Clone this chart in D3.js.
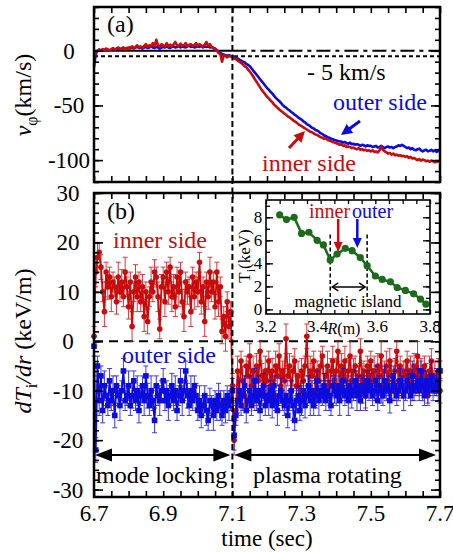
<!DOCTYPE html>
<html><head><meta charset="utf-8">
<script src="https://cdn.jsdelivr.net/npm/d3@7"></script>
<style>
body{margin:0;background:#fff}
svg{display:block}
text{font-family:"Liberation Serif","Times New Roman",serif;fill:#000}
</style>
</head><body>
<svg id="fig" width="453" height="552"></svg>
<script>
// ---- sampling of the time traces ----
const timeStart = 6.7;
const timeStep = 0.005;
const lockTime = 7.1;

// (a) toroidal rotation v_phi (km/s)
const vOuter = [
 -15,-3,0,1,0.5,1,0,1.5,1,0.5,1,2,1,1.5,2,1,2,2.5,1.5,2,
 2,3,2.5,2,3,3.5,2.5,3,2,3,3.5,2.5,3,4,3,2.5,3.5,3,2,3,
 3.5,3,4,3,2.5,3.5,4,3,3.5,4.5,3,4,3.5,3,4,4.5,3.5,4,3,3.5,
 4,3.5,4.5,3,4,3.5,4,3,3.5,2.5,2,0.5,-1,-2,-3,-3.5,-4,-4.5,-4,-5,
 -5,-6,-6.5,-7,-8,-9,-10,-10.5,-12,-13,-14,-16,-18,-20,-22,-24,-26,-28,-30,-32,
 -34,-35.5,-37.5,-39,-41,-43,-44.5,-46,-47.5,-49.5,-51,-52,-53.5,-54.5,-56,-57,-58.5,-59.5,-61,-62,
 -63,-64.5,-65.5,-67,-68,-69,-70.5,-71,-72.5,-73,-74,-75.5,-76,-77.5,-78,-79,-79.5,-80.5,-81,-81.5,
 -82,-82.5,-83,-83,-84,-83.5,-84.5,-85,-84,-85.5,-85,-86,-85.5,-86,-87,-86,-86.5,-87.5,-86.5,-87,
 -87,-88,-87.5,-87,-88.5,-88,-87,-88,-89,-88,-87.5,-88.5,-88,-89,-88,-87.5,-86.5,-87,-86,-87,
 -88,-89,-88.5,-90,-89,-90.5,-91,-90,-89.5,-91,-92,-91,-90.5,-92,-91.5,-90.5,-92,-91,-92.5,-91.5,-92
];
const vInner = [
 -5,-1,0,1,0,1.5,0.5,2,1,0,1.5,2.5,1,2,3,1.5,2,3,1,2.5,
 3,2,4,2.5,3.5,5,3,4,2.5,4.5,6,3.5,5,4,7,4,10,5,4,6,
 5,3.5,7,4,5.5,4,6,8,5,4,6.5,4.5,5,7,4,5.5,6,4.5,5,7,
 4.5,6,5,4,5.5,8,4.5,6,3.5,2.5,1,0,-2,-3,-10,-4,-5,-6,-4.5,-5,
 -5.5,-7,-7.5,-9,-10,-11,-12.5,-14,-15,-17,-19,-21,-23.5,-26,-28.5,-31,-33.5,-36,-38,-40,
 -42,-43.5,-45.5,-47,-49,-50.5,-52,-53.5,-55,-56,-57.5,-58.5,-60,-61,-62,-63.5,-64.5,-65.5,-67,-68,
 -69,-70,-71,-72,-73,-74,-74.5,-75.5,-76.5,-77,-78,-79,-79.5,-80.5,-80,-81.5,-82,-82.5,-83.5,-84,
 -84.5,-85,-86,-85.5,-87,-86.5,-88,-87.5,-88,-89,-88.5,-89.5,-90,-89,-90.5,-90,-91,-90.5,-91.5,-91,
 -92,-91,-92.5,-92,-93,-91,-88,-90.5,-92,-93,-94,-93.5,-95,-94,-95.5,-95,-96,-95.5,-96.5,-96,
 -97,-96.5,-98,-97,-98.5,-98,-99,-100,-99,-100.5,-99.5,-100,-101,-100.5,-101.5,-100.5,-101,-102,-101.5,-101,-101.5
];
const vRefLevel = -5;

// (b) ion temperature gradient dTi/dr (keV/m) with error bars
const gradInner = [
 1,14,17,18,15,10,6,14,11,13,9,12,11,8,13,10,12,9,14,11,
 7,12,3,10,13,9,12,8,11,5,10,4,9,12,10,14,13,9,2.5,11,
 13,8,14,10,15,9,11,7,13,10,14,8,5,12,10,11,6,13,9,12,
 10,16,8,11,4,12,9,14,10,12,7,14,8,11,2,5,1,8,3,6,
 -9,-20,-14,-6,-10,-4,-8,-11,-5,-7,-3,-9,-6,-12,-5,-8,-2,-7,-10,-6,
 -8,-4,-9,-6,-11,-5,-7,-3,-9,-6,-8,0.5,-7,-5,-10,-6,-4,-9,-7,-12,
 -6,-8,-5,1,-9,-6,-7,-4,-10,-6,-8,-5,-3,-9,-7,-5,-11,-6,-4,-8,
 -6,-2,-9,-5,-7,-4,-10,-6,-3,-8,-6,-5,-9,-7,-2,-8,-6,-11,-5,-7,
 -4,-8,-6,-10,-5,-7,-3,-9,-6,-5,-8,-4,-7,-10,-6,-2,-8,-5,-9,-6,
 -7,-4,-8,-6,-10,-5,-7,-3,-9,-6,-8,-5,-7,-11,-6,-4,-8,-7,-9,-6,-10
];
const gradInnerErr = [
 2,3,3,2,2.5,2,3,2,2.5,2,3,2,2,2.5,3,2,2.5,2,3,2,
 2.5,2,3,2,2.5,3,2,2,2.5,3,2,2.5,2,3,2,2.5,2,3,2,2.5,
 2,3,2,2.5,2,3,2.5,2,2,3,2,2.5,3,2,2.5,2,3,2,2.5,2,
 3,2,2.5,2,3,2,2.5,3,2,2,2.5,2,3,2,2.5,2,3,2,2.5,2,
 2.5,3,2,3,2.5,2,3,2.5,2,3,2.5,2,3,2,2.5,3,2,2.5,2,3,
 2.5,2,3,2.5,2,3,2,2.5,3,2,2.5,3,2,2.5,2,3,2.5,2,3,2,
 2.5,3,2,2.5,2,3,2.5,2,3,2,2.5,3,2,2.5,2,3,2,2.5,3,2,
 2.5,2,3,2.5,2,3,2,2.5,3,2,2.5,2,3,2,2.5,3,2,2.5,2,3,
 2,2.5,3,2,2.5,2,3,2.5,2,3,2,2.5,3,2,2.5,2,3,2,2.5,2,
 3,2,2.5,3,2,2.5,2,3,2,2.5,3,2,2.5,2,3,2.5,2,3,2,2.5,2.5
];
const gradOuter = [
 -1,-22,-5,-12,-7,-14,-9,-11,-13,-8,-12,-10,-15,-9,-11,-13,-10,-6,-12,-11,
 -9,-13,-11,-8,-12,-10,-14,-11,-9,-12,-7,-11,-13,-10,-12,-16,-9,-11,-12,-10,
 -8,-12,-10,-13,-11,-9,-12,-10,-14,-11,-8,-12,-10,-6,-11,-13,-10,-12,-9,-11,
 -14,-12,-15,-13,-11,-14,-16,-12,-13,-15,-12,-14,-11,-13,-15,-12,-14,-11,-13,-12,
 -10,-19,-15,-12,-10,-13,-11,-9,-14,-12,-10,-13,-11,-8,-12,-10,-14,-11,-9,-13,
 -11,-12,-10,-13,-9,-12,-14,-11,-10,-12,-13,-11,-15,-12,-10,-13,-16,-12,-11,-14,
 -12,-10,-13,-11,-9,-12,-10,-13,-11,-8,-12,-10,-11,-9,-12,-10,-11,-13,-9,-10,
 -11,-9,-12,-10,-8,-11,-10,-12,-9,-11,-10,-8,-11,-9,-12,-10,-9,-11,-8,-10,
 -9,-11,-10,-8,-12,-9,-10,-11,-8,-10,-9,-12,-10,-7,-9,-11,-10,-8,-9,-11,
 -10,-8,-9,-11,-7,-10,-9,-8,-10,-6,-9,-11,-8,-10,-9,-7,-10,-9,-8,-10,-6
];
const gradOuterErr = [
 2,2.5,2,3,2,2.5,3,2,2,2.5,2,3,2.5,2,2,3,2,2.5,2,2,
 3,2,2.5,2,2,3,2.5,2,2,3,2,2.5,2,3,2,2.5,2,2,3,2,
 2.5,2,2,3,2,2.5,2,3,2,2,2.5,3,2,2,2.5,2,3,2,2,2.5,
 2,3,2.5,2,2,3,2,2.5,2,3,2,2,2.5,3,2,2,2.5,2,3,2,
 2.5,3,2,2.5,2,2,3,2,2.5,2,3,2,2,2.5,2,3,2,2,2.5,2,
 2,3,2,2.5,2,2,3,2,2.5,2,2,3,2.5,2,2,3,2,2.5,2,2,
 3,2,2.5,2,2,3,2,2,2.5,2,3,2,2,2.5,2,2,3,2,2,2.5,
 2,2,3,2,2.5,2,2,3,2,2.5,2,2,3,2,2,2.5,2,3,2,2,
 2.5,2,2,3,2,2,2.5,2,3,2,2,2.5,2,2,3,2,2,2.5,2,3,
 2,2,2.5,2,3,2,2,2.5,2,2,3,2,2,2.5,2,3,2,2,2.5,2,2
];
const gradRefLevel = 0;

// inset: Ti radial profile
const profileR = [3.25,3.275,3.303,3.33,3.357,3.387,3.41,3.435,3.46,3.49,3.515,3.545,3.57,3.6,3.625,3.655,3.68,3.71,3.74,3.765,3.785];
const profileT = [8.2,7.8,8.0,6.6,6.7,6.0,5.6,4.3,4.8,5.3,5.1,4.5,3.8,2.9,2.6,2.4,1.9,1.65,1.35,0.9,0.45];
const islandEdges = [3.435, 3.57];
const innerR = 3.464, outerR = 3.534;

// tick labels
const timeTicks = [6.7, 6.9, 7.1, 7.3, 7.5, 7.7];
const vTicks = [0, -50, -100];
const gradTicks = [30, 20, 10, 0, -10, -20, -30];
const insetRTicks = [3.2, 3.4, 3.6, 3.8];
const insetTTicks = [0, 2, 4, 6, 8];

// ---- colours ----
const RED = "#c80c0c", BLUE = "#0c0cdc", GREEN = "#1c6b1c";

const svg = d3.select("#fig");
const times = vOuter.map((_, i) => timeStart + i * timeStep);

const x = d3.scaleLinear([6.7, 7.7], [94, 440]);
const yTop = d3.scaleLinear([-120, 40], [182, 7]);
const yBot = d3.scaleLinear([-31.5, 30], [497, 193]);

const minorTimes = d3.range(0, 21).map(i => 6.7 + i * 0.05);

function frameTicks(g, y, yMinor, yMajor, majorLen) {
  const [x0, x1] = x.range();
  const [yb, yt] = y.range();
  g.append("g").attr("transform", `translate(0,${yb})`)
    .call(d3.axisBottom(x).tickValues(minorTimes).tickSize(-6).tickFormat(""));
  g.append("g").attr("transform", `translate(0,${yt})`)
    .call(d3.axisTop(x).tickValues(minorTimes).tickSize(-6).tickFormat(""));
  g.append("g").attr("transform", `translate(${x0},0)`)
    .call(d3.axisLeft(y).tickValues(yMinor).tickSize(-5).tickFormat(""));
  g.append("g").attr("transform", `translate(${x1},0)`)
    .call(d3.axisRight(y).tickValues(yMinor).tickSize(-5).tickFormat(""));
  g.append("g").attr("transform", `translate(${x0},0)`)
    .call(d3.axisLeft(y).tickValues(yMajor).tickSize(-majorLen).tickFormat(""));
  g.append("g").attr("transform", `translate(${x1},0)`)
    .call(d3.axisRight(y).tickValues(yMajor).tickSize(-majorLen).tickFormat(""));
  g.selectAll(".domain").remove();
  g.selectAll(".tick line").attr("stroke", "#000").attr("stroke-width", 1.6);
  g.append("rect").attr("x", x0).attr("y", yt).attr("width", x1 - x0).attr("height", yb - yt)
    .attr("fill", "none").attr("stroke", "#000").attr("stroke-width", 2.5);
}

function arrowHead(g, x1, y1, x2, y2, len, halfW, color) {
  const a = Math.atan2(y2 - y1, x2 - x1);
  const bx = x2 - len * Math.cos(a), by = y2 - len * Math.sin(a);
  const nx = -Math.sin(a) * halfW, ny = Math.cos(a) * halfW;
  g.append("path")
    .attr("d", `M${x2},${y2}L${bx + nx},${by + ny}L${bx - nx},${by - ny}Z`)
    .attr("fill", color);
}
function arrow(g, x1, y1, x2, y2, color, w, len, halfW) {
  const a = Math.atan2(y2 - y1, x2 - x1);
  g.append("line").attr("x1", x1).attr("y1", y1)
    .attr("x2", x2 - len * 0.8 * Math.cos(a)).attr("y2", y2 - len * 0.8 * Math.sin(a))
    .attr("stroke", color).attr("stroke-width", w);
  arrowHead(g, x1, y1, x2, y2, len, halfW, color);
}

// ================= panel (a) =================
const ga = svg.append("g");
// reference lines
ga.append("line").attr("x1", x(6.7)).attr("x2", x(lockTime)).attr("y1", yTop(0)).attr("y2", yTop(0))
  .attr("stroke", "#000").attr("stroke-width", 2);
ga.append("line").attr("x1", x(lockTime)).attr("x2", x(7.7)).attr("y1", yTop(0)).attr("y2", yTop(0))
  .attr("stroke", "#000").attr("stroke-width", 2).attr("stroke-dasharray", "14,5,4,5");
ga.append("line").attr("x1", x(6.7)).attr("x2", x(7.7)).attr("y1", yTop(vRefLevel)).attr("y2", yTop(vRefLevel))
  .attr("stroke", "#000").attr("stroke-width", 2).attr("stroke-dasharray", "4,3");

const lineTop = d3.line().x((d, i) => x(times[i])).y(d => yTop(d));
ga.append("path").datum(vOuter).attr("d", lineTop).attr("fill", "none")
  .attr("stroke", BLUE).attr("stroke-width", 2.6).attr("stroke-linejoin", "round");
ga.append("path").datum(vInner).attr("d", lineTop).attr("fill", "none")
  .attr("stroke", RED).attr("stroke-width", 2.6).attr("stroke-linejoin", "round");

frameTicks(ga, yTop, d3.range(-120, 41, 10), vTicks, 9);

ga.selectAll("text.ytl").data(vTicks).join("text").attr("class", "ytl")
  .attr("x", 69).attr("y", d => yTop(d) + 8).attr("text-anchor", "middle")
  .attr("font-size", 23).text(d => String(d));

ga.append("text").attr("x", 107).attr("y", 32).attr("font-size", 24).text("(a)");
ga.append("text").attr("x", 307).attr("y", 80).attr("font-size", 24).text("- 5 km/s");
ga.append("text").attr("x", 333).attr("y", 110).attr("font-size", 24).style("fill", BLUE).text("outer side");
ga.append("text").attr("x", 262).attr("y", 171).attr("font-size", 24).style("fill", RED).text("inner side");
arrow(ga, 360, 121, 341, 135, BLUE, 3, 11, 5.5);
arrow(ga, 289, 148, 305, 131, RED, 3, 11, 5.5);

// y label (a)
const la = ga.append("text").attr("transform", "translate(31,95) rotate(-90)")
  .attr("text-anchor", "middle").attr("font-size", 24);
la.append("tspan").attr("font-style", "italic").text("v");
la.append("tspan").attr("font-size", 16).attr("dy", 6).text("φ");
la.append("tspan").attr("dy", -6).text("(km/s)");

// ================= panel (b) =================
const gb = svg.append("g");
gb.append("line").attr("x1", x(6.7)).attr("x2", x(7.7)).attr("y1", yBot(gradRefLevel)).attr("y2", yBot(gradRefLevel))
  .attr("stroke", "#000").attr("stroke-width", 2).attr("stroke-dasharray", "9,6");

function series(g, vals, errs, color, shape) {
  const pts = vals.map((v, i) => ({t: times[i], v, e: errs[i]}));
  const eb = g.append("g").attr("stroke", color).attr("stroke-width", 1).attr("opacity", 0.8);
  pts.forEach(p => {
    const xx = x(p.t), ylo = yBot(p.v - p.e), yhi = yBot(p.v + p.e);
    eb.append("line").attr("x1", xx).attr("x2", xx).attr("y1", ylo).attr("y2", yhi);
    eb.append("line").attr("x1", xx - 2.5).attr("x2", xx + 2.5).attr("y1", ylo).attr("y2", ylo);
    eb.append("line").attr("x1", xx - 2.5).attr("x2", xx + 2.5).attr("y1", yhi).attr("y2", yhi);
  });
  g.append("path").datum(pts)
    .attr("d", d3.line().x(p => x(p.t)).y(p => yBot(p.v)))
    .attr("fill", "none").attr("stroke", color).attr("stroke-width", 1.8);
  if (shape === "circle") {
    g.append("g").selectAll("circle").data(pts).join("circle")
      .attr("cx", p => x(p.t)).attr("cy", p => yBot(p.v)).attr("r", 2.8).attr("fill", color);
  } else {
    g.append("g").selectAll("rect").data(pts).join("rect")
      .attr("x", p => x(p.t) - 2.8).attr("y", p => yBot(p.v) - 2.8)
      .attr("width", 5.6).attr("height", 5.6).attr("fill", color);
  }
}
series(gb, gradInner, gradInnerErr, RED, "circle");
series(gb, gradOuter, gradOuterErr, BLUE, "square");

frameTicks(gb, yBot, d3.range(-30, 31, 2), gradTicks, 9);

gb.selectAll("text.ytl").data(gradTicks).join("text").attr("class", "ytl")
  .attr("x", 68).attr("y", d => yBot(d) + 8).attr("text-anchor", "middle")
  .attr("font-size", 23).text(d => String(d));
gb.selectAll("text.xtl").data(timeTicks).join("text").attr("class", "xtl")
  .attr("x", d => x(d)).attr("y", 521).attr("text-anchor", "middle")
  .attr("font-size", 23).text(d => d.toFixed(1));

gb.append("text").attr("x", 267).attr("y", 546).attr("text-anchor", "middle").attr("font-size", 23).text("time (sec)");
gb.append("text").attr("x", 107).attr("y", 219).attr("font-size", 24).text("(b)");
gb.append("text").attr("x", 113).attr("y", 248).attr("font-size", 24).style("fill", RED).text("inner side");
gb.append("text").attr("x", 122).attr("y", 363).attr("font-size", 24).style("fill", BLUE).text("outer side");

// phase arrows
const yPhase = yBot(-23);
function dblArrow(g, xa, xb, yy) {
  g.append("line").attr("x1", xa + 10).attr("x2", xb - 10).attr("y1", yy).attr("y2", yy)
    .attr("stroke", "#000").attr("stroke-width", 2);
  arrowHead(g, xb, yy, xa, yy, 17, 6.5, "#000");
  arrowHead(g, xa, yy, xb, yy, 17, 6.5, "#000");
}
dblArrow(gb, x(6.7) + 1, x(lockTime) - 2, yPhase);
dblArrow(gb, x(lockTime) + 2, x(7.7) - 4, yPhase);
gb.append("text").attr("x", 96).attr("y", 483).attr("font-size", 24).text("mode locking");
gb.append("text").attr("x", 253).attr("y", 483).attr("font-size", 24).text("plasma rotating");

// y label (b)
const lb = gb.append("text").attr("transform", "translate(31,341) rotate(-90)")
  .attr("text-anchor", "middle").attr("font-size", 24);
lb.append("tspan").attr("font-style", "italic").text("dT");
lb.append("tspan").attr("font-size", 16).attr("dy", 6).text("i");
lb.append("tspan").attr("dy", -6).attr("font-style", "italic").text("/dr");
lb.append("tspan").text(" (keV/m)");

// vertical line at the locking time, across both panels
svg.append("line").attr("x1", x(lockTime)).attr("x2", x(lockTime))
  .attr("y1", yTop.range()[1]).attr("y2", yBot.range()[0])
  .attr("stroke", "#000").attr("stroke-width", 2).attr("stroke-dasharray", "6,3.5");

// ================= inset =================
const gi = svg.append("g");
const xi = d3.scaleLinear([3.2, 3.8], [266, 430]);
const yi = d3.scaleLinear([-0.4, 9.5], [314, 200]);
gi.append("rect").attr("x", 266).attr("y", 200).attr("width", 164).attr("height", 114).attr("fill", "#fff");

const iMinorX = d3.range(0, 13).map(i => 3.2 + i * 0.05);
const iMinorY = d3.range(0, 10);
gi.append("g").attr("transform", "translate(0,314)").call(d3.axisBottom(xi).tickValues(iMinorX).tickSize(-4).tickFormat(""));
gi.append("g").attr("transform", "translate(0,200)").call(d3.axisTop(xi).tickValues(iMinorX).tickSize(-4).tickFormat(""));
gi.append("g").attr("transform", "translate(266,0)").call(d3.axisLeft(yi).tickValues(iMinorY).tickSize(-4).tickFormat(""));
gi.append("g").attr("transform", "translate(430,0)").call(d3.axisRight(yi).tickValues(iMinorY).tickSize(-4).tickFormat(""));
gi.append("g").attr("transform", "translate(266,0)").call(d3.axisLeft(yi).tickValues(insetTTicks).tickSize(-7).tickFormat(""));
gi.append("g").attr("transform", "translate(430,0)").call(d3.axisRight(yi).tickValues(insetTTicks).tickSize(-7).tickFormat(""));
gi.selectAll(".domain").remove();
gi.selectAll(".tick line").attr("stroke", "#000").attr("stroke-width", 1.3);

// island boundaries
islandEdges.forEach(r => {
  gi.append("line").attr("x1", xi(r)).attr("x2", xi(r)).attr("y1", yi(6.5)).attr("y2", yi(0.8))
    .attr("stroke", "#000").attr("stroke-width", 1.5).attr("stroke-dasharray", "4,2.5");
});
// island width arrow
const yIsl = yi(1.95);
gi.append("line").attr("x1", xi(islandEdges[0]) + 2).attr("x2", xi(islandEdges[1]) - 2)
  .attr("y1", yIsl).attr("y2", yIsl).attr("stroke", "#000").attr("stroke-width", 1.4);
gi.append("path").attr("d", `M${xi(islandEdges[0]) + 8},${yIsl - 4}L${xi(islandEdges[0]) + 2},${yIsl}L${xi(islandEdges[0]) + 8},${yIsl + 4}`)
  .attr("fill", "none").attr("stroke", "#000").attr("stroke-width", 1.4);
gi.append("path").attr("d", `M${xi(islandEdges[1]) - 8},${yIsl - 4}L${xi(islandEdges[1]) - 2},${yIsl}L${xi(islandEdges[1]) - 8},${yIsl + 4}`)
  .attr("fill", "none").attr("stroke", "#000").attr("stroke-width", 1.4);

const prof = profileR.map((r, i) => ({r, t: profileT[i]}));
gi.append("path").datum(prof).attr("d", d3.line().x(d => xi(d.r)).y(d => yi(d.t)))
  .attr("fill", "none").attr("stroke", GREEN).attr("stroke-width", 2.5);
gi.selectAll("circle").data(prof).join("circle")
  .attr("cx", d => xi(d.r)).attr("cy", d => yi(d.t)).attr("r", 3.6).attr("fill", GREEN);

gi.append("rect").attr("x", 266).attr("y", 200).attr("width", 164).attr("height", 114)
  .attr("fill", "none").attr("stroke", "#000").attr("stroke-width", 1.6);

gi.selectAll("text.iyt").data(insetTTicks).join("text").attr("class", "iyt")
  .attr("x", 258).attr("y", d => yi(d) + 5.5).attr("text-anchor", "middle").attr("font-size", 17).text(d => d);
gi.selectAll("text.ixt").data(insetRTicks).join("text").attr("class", "ixt")
  .attr("x", (d, i) => xi(d) + (i === 1 ? -3 : i === 2 ? 2 : 0)).attr("y", 332)
  .attr("text-anchor", "middle").attr("font-size", 17).text(d => d.toFixed(1));

const rl = gi.append("text").attr("x", 344).attr("y", 334).attr("text-anchor", "middle").attr("font-size", 16);
rl.append("tspan").attr("font-style", "italic").text("R");
rl.append("tspan").text("(m)");

const tl = gi.append("text").attr("transform", "translate(250,256) rotate(-90)")
  .attr("text-anchor", "middle").attr("font-size", 17);
tl.append("tspan").text("T");
tl.append("tspan").attr("font-size", 12).attr("dy", 5).text("i");
tl.append("tspan").attr("dy", -5).text("(keV)");

gi.append("text").attr("x", 348).attr("y", 307).attr("text-anchor", "middle").attr("font-size", 17).text("magnetic island");
gi.append("text").attr("x", 309).attr("y", 218).attr("font-size", 20).style("fill", RED).text("inner");
gi.append("text").attr("x", 352).attr("y", 218).attr("font-size", 20).style("fill", BLUE).text("outer");
arrow(gi, xi(innerR), 219, xi(innerR), 252, RED, 2.5, 10, 4.5);
arrow(gi, xi(outerR), 219, xi(outerR), 248, BLUE, 2.5, 10, 4.5);
</script>
</body></html>
